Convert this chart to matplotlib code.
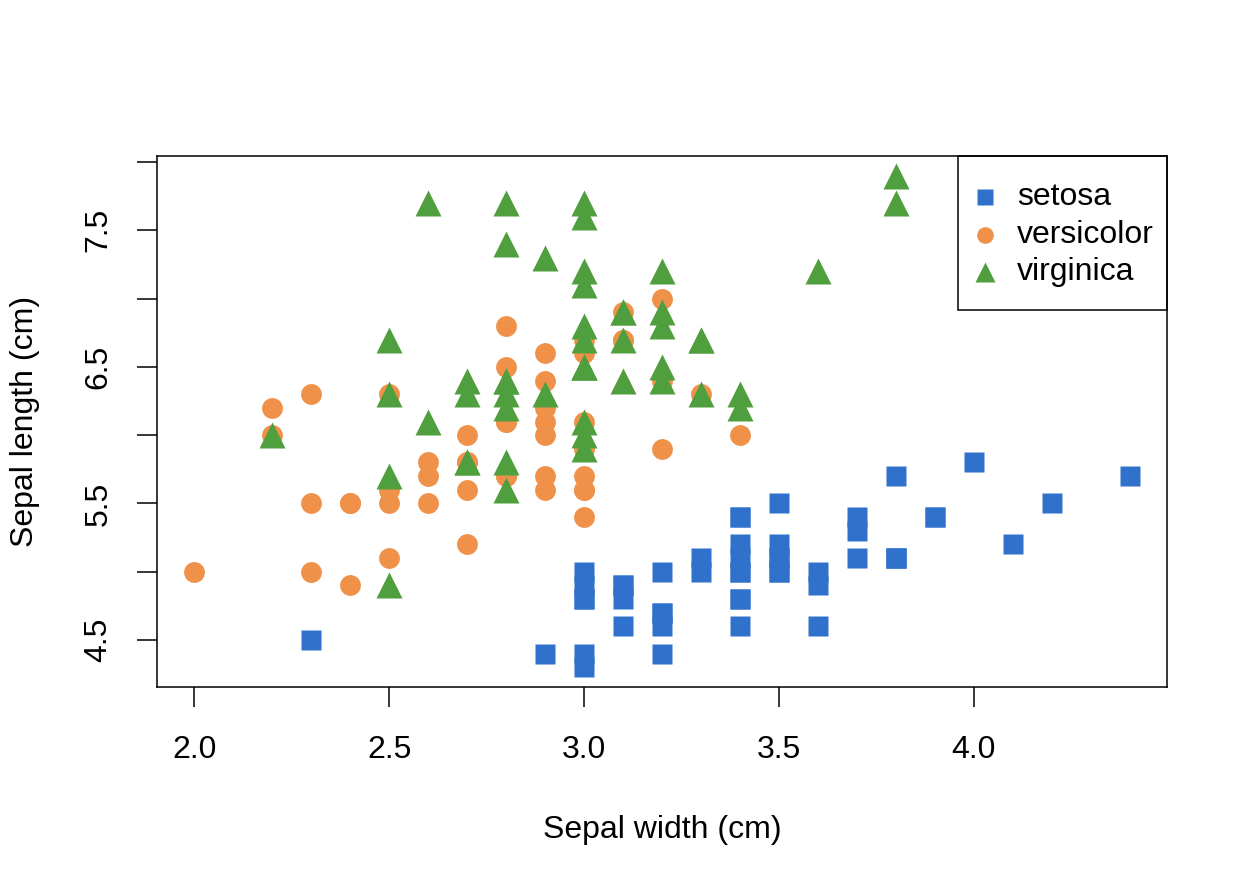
import matplotlib.pyplot as plt
from matplotlib.ticker import FixedLocator, FixedFormatter
from matplotlib.patches import Rectangle

# iris data: sepal width / sepal length per species
setosa_width = [3.5, 3.0, 3.2, 3.1, 3.6, 3.9, 3.4, 3.4, 2.9, 3.1, 3.7, 3.4, 3.0, 3.0, 4.0, 4.4, 3.9,
                3.5, 3.8, 3.8, 3.4, 3.7, 3.6, 3.3, 3.4, 3.0, 3.4, 3.5, 3.4, 3.2, 3.1, 3.4, 4.1, 4.2,
                3.1, 3.2, 3.5, 3.6, 3.0, 3.4, 3.5, 2.3, 3.2, 3.5, 3.8, 3.0, 3.8, 3.2, 3.7, 3.3]
setosa_length = [5.1, 4.9, 4.7, 4.6, 5.0, 5.4, 4.6, 5.0, 4.4, 4.9, 5.4, 4.8, 4.8, 4.3, 5.8, 5.7, 5.4,
                 5.1, 5.7, 5.1, 5.4, 5.1, 4.6, 5.1, 4.8, 5.0, 5.0, 5.2, 5.2, 4.7, 4.8, 5.4, 5.2, 5.5,
                 4.9, 5.0, 5.5, 4.9, 4.4, 5.1, 5.0, 4.5, 4.4, 5.0, 5.1, 4.8, 5.1, 4.6, 5.3, 5.0]

versicolor_width = [3.2, 3.2, 3.1, 2.3, 2.8, 2.8, 3.3, 2.4, 2.9, 2.7, 2.0, 3.0, 2.2, 2.9, 2.9, 3.1, 3.0,
                    2.7, 2.2, 2.5, 3.2, 2.8, 2.5, 2.8, 2.9, 3.0, 2.8, 3.0, 2.9, 2.6, 2.4, 2.4, 2.7, 2.7,
                    3.0, 3.4, 3.1, 2.3, 3.0, 2.5, 2.6, 3.0, 2.6, 2.3, 2.7, 3.0, 2.9, 2.9, 2.5, 2.8]
versicolor_length = [7.0, 6.4, 6.9, 5.5, 6.5, 5.7, 6.3, 4.9, 6.6, 5.2, 5.0, 5.9, 6.0, 6.1, 5.6, 6.7, 5.6,
                     5.8, 6.2, 5.6, 5.9, 6.1, 6.3, 6.1, 6.4, 6.6, 6.8, 6.7, 6.0, 5.7, 5.5, 5.5, 5.8, 6.0,
                     5.4, 6.0, 6.7, 6.3, 5.6, 5.5, 5.5, 6.1, 5.8, 5.0, 5.6, 5.7, 5.7, 6.2, 5.1, 5.7]

virginica_width = [3.3, 2.7, 3.0, 2.9, 3.0, 3.0, 2.5, 2.9, 2.5, 3.6, 3.2, 2.7, 3.0, 2.5, 2.8, 3.2, 3.0,
                   3.8, 2.6, 2.2, 3.2, 2.8, 2.8, 2.7, 3.3, 3.2, 2.8, 3.0, 2.8, 3.0, 2.8, 3.8, 2.8, 2.8,
                   2.6, 3.0, 3.4, 3.1, 3.0, 3.1, 3.1, 3.1, 2.7, 3.2, 3.3, 3.0, 2.5, 3.0, 3.4, 3.0]
virginica_length = [6.3, 5.8, 7.1, 6.3, 6.5, 7.6, 4.9, 7.3, 6.7, 7.2, 6.5, 6.4, 6.8, 5.7, 5.8, 6.4, 6.5,
                    7.7, 7.7, 6.0, 6.9, 5.6, 7.7, 6.3, 6.7, 7.2, 6.2, 6.1, 6.4, 7.2, 7.4, 7.9, 6.4, 6.3,
                    6.1, 7.7, 6.3, 6.4, 6.0, 6.9, 6.7, 6.9, 5.8, 6.8, 6.7, 6.7, 6.3, 6.5, 6.2, 5.9]

species = ["setosa", "versicolor", "virginica"]
colors = ["#3071cc", "#f0914a", "#4f9f3f"]
markers = ["s", "o", "^"]

x_ticks = [2.0, 2.5, 3.0, 3.5, 4.0]
y_ticks = [4.5, 5.0, 5.5, 6.0, 6.5, 7.0, 7.5, 8.0]
y_labels = ["4.5", "", "5.5", "", "6.5", "", "7.5", ""]

plt.rcParams['font.family'] = ['Liberation Sans', 'DejaVu Sans']
fs = 23

fig = plt.figure(figsize=(12.48, 8.83), dpi=100)
ax = fig.add_axes([157 / 1248, 1 - 687 / 883, (1167 - 157) / 1248, (687 - 156) / 883])

ax.plot(setosa_width, setosa_length, ls="none", marker="s", ms=14.4, color=colors[0], mec="none")
ax.plot(versicolor_width, versicolor_length, ls="none", marker="o", ms=15, color=colors[1], mec="none")
ax.plot(virginica_width, virginica_length, ls="none", marker="^", ms=19, color=colors[2], mec="none")

ax.set_xlim(1.904, 4.496)
ax.set_ylim(4.156, 8.044)

ax.xaxis.set_major_locator(FixedLocator(x_ticks))
ax.yaxis.set_major_locator(FixedLocator(y_ticks))
ax.yaxis.set_major_formatter(FixedFormatter(y_labels))

for s in ax.spines.values():
    s.set_linewidth(1.1)
ax.tick_params(axis="both", length=14.4, width=1.1, labelsize=fs, direction="out")
ax.tick_params(axis="x", pad=20)
ax.tick_params(axis="y", pad=17, labelrotation=90)
for lbl in ax.get_yticklabels():
    lbl.set_verticalalignment("center")

ax.set_xlabel("Sepal width (cm)", fontsize=fs, labelpad=36)
ax.set_ylabel("Sepal length (cm)", fontsize=fs, labelpad=31)

# legend box in the R style (wide vertical padding, tight right side)
ax.add_patch(Rectangle((0.793, 0.71), 0.207, 0.29, transform=ax.transAxes, fill=False,
                       lw=1.1, ec="black", clip_on=False, zorder=5))
leg_y = [0.9228, 0.8512, 0.7815]
leg_ms = [11, 12, 14]
for name, c, m, yy, ms in zip(species, colors, markers, leg_y, leg_ms):
    ax.plot([0.8198], [yy], transform=ax.transAxes, marker=m, ms=ms, color=c, mec="none",
            ls="none", clip_on=False, zorder=6)
    ax.text(0.8515, yy, name, transform=ax.transAxes, fontsize=fs, va="center", ha="left", zorder=6)

fig.savefig("out.png", dpi=100)
